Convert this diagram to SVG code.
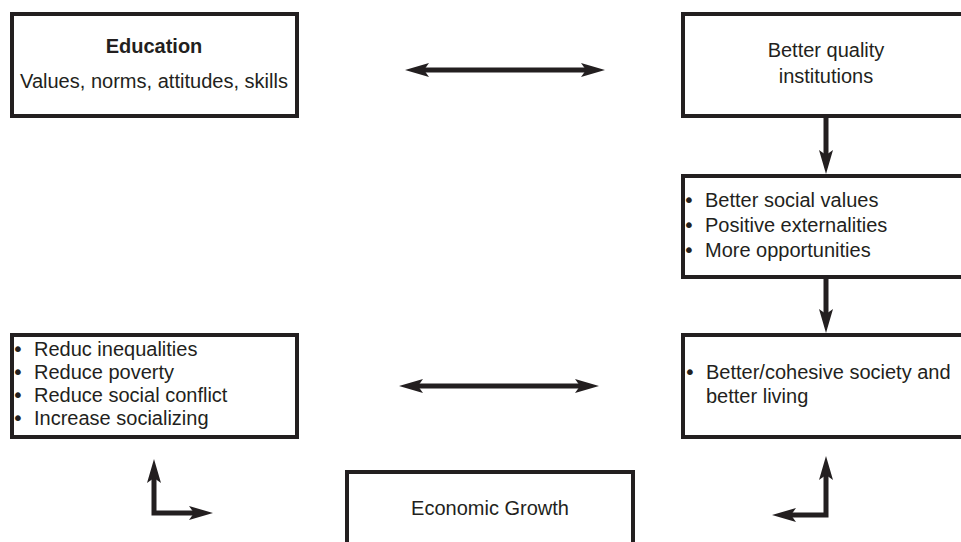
<svg xmlns="http://www.w3.org/2000/svg" width="961" height="542" viewBox="0 0 961 542">
<style>
.box{fill:#fff;stroke:#231f20;stroke-width:4}
.t{font-family:"Liberation Sans","Arimo",Arial,sans-serif;font-size:20px;fill:#231f20}
.bu{font-family:"DejaVu Sans",sans-serif;font-size:20px;fill:#231f20;text-anchor:middle}
.c{text-anchor:middle}
.b{font-weight:bold}
.con{fill:none;stroke:#231f20;stroke-width:5;stroke-linejoin:miter}
</style>
<defs>
<marker id="ah" viewBox="0 -8 24 16" refX="5" refY="0" markerWidth="24" markerHeight="16" markerUnits="userSpaceOnUse" orient="auto-start-reverse">
<path d="M0,-7 L24,0 L0,7 L5,0 z" fill="#231f20"/>
</marker>
</defs>
<rect width="961" height="542" fill="#fff"/>
<g id="education">
<rect class="box" x="12" y="14" width="285" height="102"/>
<text class="t c b" x="154" y="53">Education</text>
<text class="t c" x="154" y="88" textLength="268" lengthAdjust="spacingAndGlyphs">Values, norms, attitudes, skills</text>
</g>
<g id="institutions">
<rect class="box" x="683" y="14" width="300" height="102"/>
<text class="t c" x="826" y="57"><tspan x="826" y="57">Better quality</tspan><tspan x="826" y="83">institutions</tspan></text>
</g>
<g id="values">
<rect class="box" x="683" y="176" width="300" height="101"/>
<text class="bu"><tspan x="689" y="207">•</tspan><tspan x="689" y="232">•</tspan><tspan x="689" y="257">•</tspan></text>
<text class="t"><tspan x="705" y="207">Better social values</tspan><tspan x="705" y="232">Positive externalities</tspan><tspan x="705" y="257">More opportunities</tspan></text>
</g>
<g id="society">
<rect class="box" x="683" y="335" width="300" height="102"/>
<text class="bu" x="690" y="379">•</text>
<text class="t"><tspan x="706" y="379">Better/cohesive society and</tspan><tspan x="706" y="403">better living</tspan></text>
</g>
<g id="outcomes">
<rect class="box" x="12" y="335" width="285" height="102"/>
<text class="bu"><tspan x="18" y="356">•</tspan><tspan x="18" y="379">•</tspan><tspan x="18" y="402">•</tspan><tspan x="18" y="425">•</tspan></text>
<text class="t"><tspan x="34" y="356">Reduc inequalities</tspan><tspan x="34" y="379">Reduce poverty</tspan><tspan x="34" y="402">Reduce social conflict</tspan><tspan x="34" y="425">Increase socializing</tspan></text>
</g>
<g id="growth">
<rect class="box" x="347" y="472" width="286" height="100"/>
<text class="t c" x="490" y="515">Economic Growth</text>
</g>
<g id="connectors">
<line class="con" x1="424" y1="70" x2="586" y2="70" marker-start="url(#ah)" marker-end="url(#ah)"/>
<line class="con" x1="418" y1="386" x2="580" y2="386" marker-start="url(#ah)" marker-end="url(#ah)"/>
<line class="con" x1="826" y1="118" x2="826" y2="155" marker-end="url(#ah)"/>
<line class="con" x1="826" y1="279" x2="826" y2="314" marker-end="url(#ah)"/>
<path class="con" d="M154,478 L154,513 L194,513" marker-start="url(#ah)" marker-end="url(#ah)"/>
<path class="con" d="M826,475 L826,515 L791,515" marker-start="url(#ah)" marker-end="url(#ah)"/>
</g>
</svg>
